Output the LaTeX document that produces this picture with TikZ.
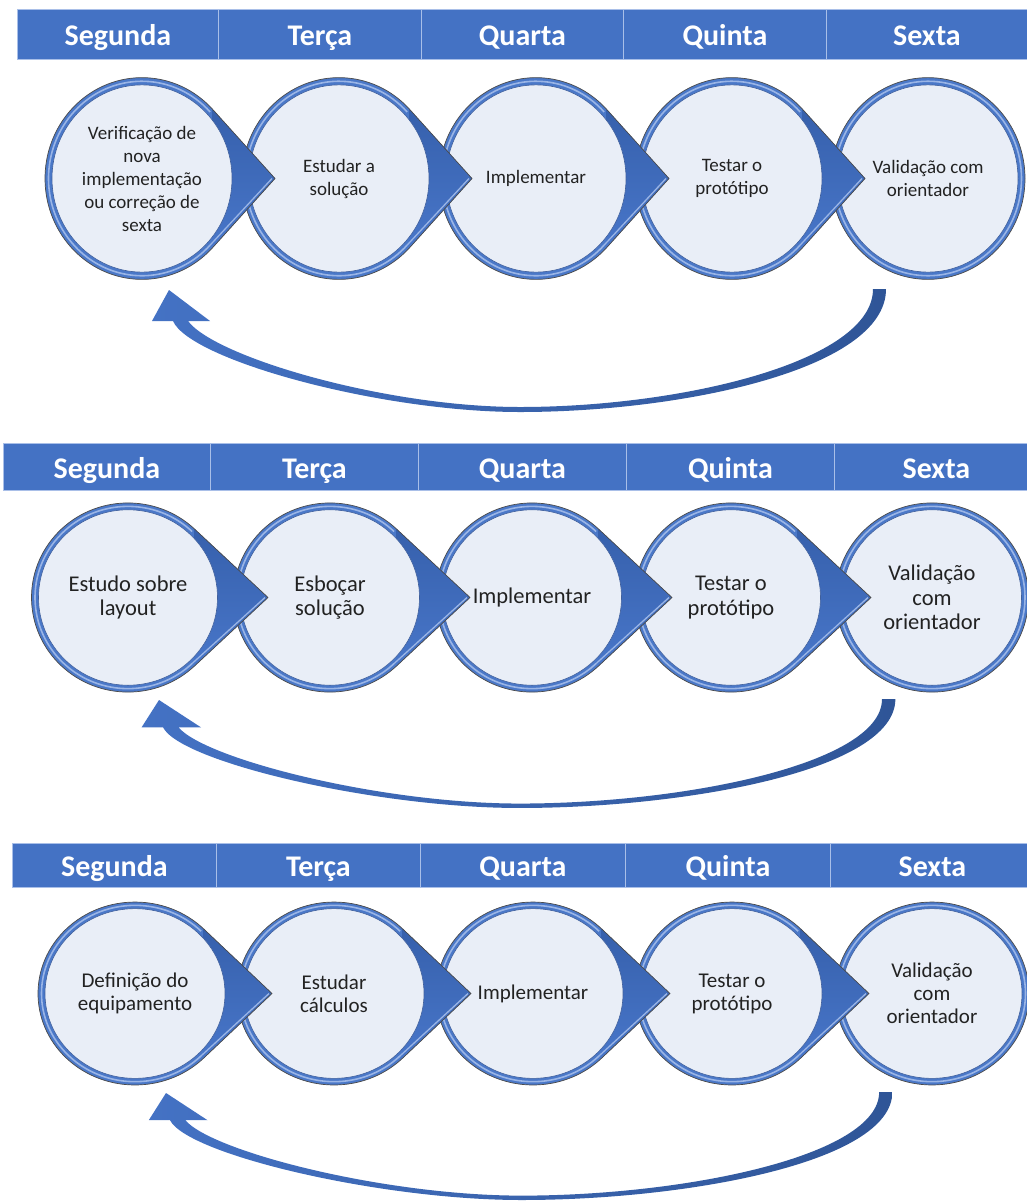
\documentclass[tikz,border=0pt]{standalone}
\usepackage{fontspec}
\setmainfont{Carlito}
\usetikzlibrary{calc}

\definecolor{hdrblue}{HTML}{4472C4}
\definecolor{hdrline}{HTML}{A9BFE8}
\definecolor{discfill}{HTML}{E9EEF7}
\definecolor{ringblue}{HTML}{4A78C8}
\definecolor{ringlight}{HTML}{9AB5E6}
\definecolor{rimline}{HTML}{4A4A4A}
\definecolor{innerline}{HTML}{3F5F9C}
\definecolor{ptrdark}{HTML}{3660AC}
\definecolor{ptrmain}{HTML}{4876C9}
\definecolor{arrowlight}{HTML}{4472C4}
\definecolor{arrowdark}{HTML}{2F5597}
\definecolor{txt}{HTML}{222222}

\tikzset{
  hdrcell/.style={draw=hdrline, line width=0.8pt, fill=hdrblue, text=white,
    font=\bfseries\fontsize{30}{30}\selectfont, inner sep=0pt,
    text height=23pt, text depth=0pt, anchor=north west},
  bubbletext/.style={align=center, text=txt, inner sep=0pt},
}

% disc with a pointer to the right: #1 name, #2 cx, #3 cy, #4 radius,
% #5 vertical ratio, #6 tip distance, #7 label
\newcommand{\bubbleptr}[7]{%
  \pgfmathsetmacro{\tng}{acos(#4/#6)}%
  \pgfmathsetmacro{\rhl}{#4-3.5}%
  \pgfmathsetmacro{\rin}{#4-7}%
  \begin{scope}[shift={(#2,#3)}, yscale=#5]
    \fill[ringblue] (\tng:#4) arc[start angle=\tng, end angle=360-\tng, radius=#4] -- (#6,0) -- cycle;
    \shade[top color=ptrdark, bottom color=ptrmain] (\tng:#4) -- (#6,0) -- (-\tng:#4) -- cycle;
    \draw[ringlight, line width=1.3pt] (-\tng:\rhl) -- (#6-3,0);
    \draw[rimline, line width=0.7pt, line join=round] (\tng:#4) arc[start angle=\tng, end angle=360-\tng, radius=#4] -- (#6,0) -- cycle;
    \draw[ringlight, line width=1.6pt] (\tng:\rhl) arc[start angle=\tng, end angle=360-\tng, radius=\rhl];
    \fill[discfill] (0,0) circle[radius=\rin];
    \draw[innerline, line width=0.6pt] (0,0) circle[radius=\rin];
  \end{scope}
  \node[bubbletext] (#1) at (#2,#3) {#7};
}

% plain disc closing the row: #1 name, #2 cx, #3 cy, #4 radius, #5 vertical ratio, #6 label
\newcommand{\bubbleend}[6]{%
  \pgfmathsetmacro{\rhl}{#4-3.5}%
  \pgfmathsetmacro{\rin}{#4-7}%
  \begin{scope}[shift={(#2,#3)}, yscale=#5]
    \fill[ringblue] (0,0) circle[radius=#4];
    \draw[rimline, line width=0.7pt] (0,0) circle[radius=#4];
    \draw[ringlight, line width=1.6pt] (0,0) circle[radius=\rhl];
    \fill[discfill] (0,0) circle[radius=\rin];
    \draw[innerline, line width=0.6pt] (0,0) circle[radius=\rin];
  \end{scope}
  \node[bubbletext] (#1) at (#2,#3) {#6};
}

% curved return arrow: #1 tip coordinate, #2 xscale, #3 yscale
\newcommand{\backarrow}[3]{%
  \shade[left color=arrowlight, right color=arrowdark, shift={(#1)}, xscale=#2, yscale=#3]
    (0,0) -- (-17,-31) -- (4,-31)
    .. controls (21,-70) and (211,-122) .. (351,-122)
    .. controls (511,-122) and (717,-80) .. (717,1)
    -- (704,1)
    .. controls (704,-72) and (511,-117) .. (351,-117)
    .. controls (216,-117) and (46,-67) .. (19,-31)
    -- (41,-31) -- cycle;
}

\begin{document}
\begin{tikzpicture}[x=1pt, y=1pt]
\useasboundingbox[fill=white] (0,0) rectangle (1027,-1203);

% ---------- first week ----------
\begin{scope}[bubbletext/.append style={font=\fontsize{19}{23}\selectfont}]
  \foreach \i/\a/\b/\d in {1/17/218/Segunda, 2/218/421/Terça, 3/421/623/Quarta, 4/623/826/Quinta, 5/826/1027/Sexta}
    \node[hdrcell, minimum width={(\b-\a)*1pt}, minimum height=50pt] (wa-day\i) at (\a,-9) {\d};
  \bubbleend{wa-5}{928}{-178.5}{97}{1.04}{Validação com\\orientador}
  \bubbleptr{wa-4}{732}{-178.5}{97}{1.04}{133}{Testar o\\protótipo}
  \bubbleptr{wa-3}{536}{-178.5}{97}{1.04}{133}{Implementar}
  \bubbleptr{wa-2}{339}{-178.5}{97}{1.04}{133}{Estudar a\\solução}
  \bubbleptr{wa-1}{142}{-178.5}{97}{1.04}{133}{Verificação de\\nova\\implementação\\ou correção de\\sexta}
  \coordinate (wa-back) at (169,-290);
  \backarrow{wa-back}{1}{1}
\end{scope}

% ---------- second week ----------
\begin{scope}[bubbletext/.append style={font=\fontsize{22.5}{24.5}\selectfont}]
  \foreach \i/\a/\b/\d in {1/3/210/Segunda, 2/210/418/Terça, 3/418/626/Quarta, 4/626/834/Quinta, 5/834/1038/Sexta}
    \node[hdrcell, minimum width={(\b-\a)*1pt}, minimum height=47pt] (wb-day\i) at (\a,-443) {\d};
  \bubbleend{wb-5}{932}{-597.5}{96.5}{0.98}{Validação\\com\\orientador}
  \bubbleptr{wb-4}{731}{-597.5}{96.5}{0.98}{140}{Testar o\\protótipo}
  \bubbleptr{wb-3}{532}{-597.5}{96.5}{0.98}{140}{Implementar}
  \bubbleptr{wb-2}{330}{-597.5}{96.5}{0.98}{140}{Esboçar\\solução}
  \bubbleptr{wb-1}{128}{-597.5}{96.5}{0.98}{140}{Estudo sobre\\layout}
  \coordinate (wb-back) at (159,-700);
  \backarrow{wb-back}{1.027}{0.885}
\end{scope}

% ---------- third week ----------
\begin{scope}[bubbletext/.append style={font=\fontsize{21}{23}\selectfont}]
  \foreach \i/\a/\b/\d in {1/12/216/Segunda, 2/216/420/Terça, 3/420/625/Quarta, 4/625/830/Quinta, 5/830/1034/Sexta}
    \node[hdrcell, minimum width={(\b-\a)*1pt}, minimum height=44pt] (wc-day\i) at (\a,-843) {\d};
  \bubbleend{wc-5}{932}{-993.5}{97}{0.943}{Validação\\com\\orientador}
  \bubbleptr{wc-4}{732}{-993.5}{97}{0.943}{137}{Testar o\\protótipo}
  \bubbleptr{wc-3}{533}{-993.5}{97}{0.943}{137}{Implementar}
  \bubbleptr{wc-2}{334}{-993.5}{97}{0.943}{137}{Estudar\\cálculos}
  \bubbleptr{wc-1}{135}{-993.5}{97}{0.943}{137}{Definição do\\equipamento}
  \coordinate (wc-back) at (166,-1093);
  \backarrow{wc-back}{1.013}{0.877}
\end{scope}
\end{tikzpicture}
\end{document}
